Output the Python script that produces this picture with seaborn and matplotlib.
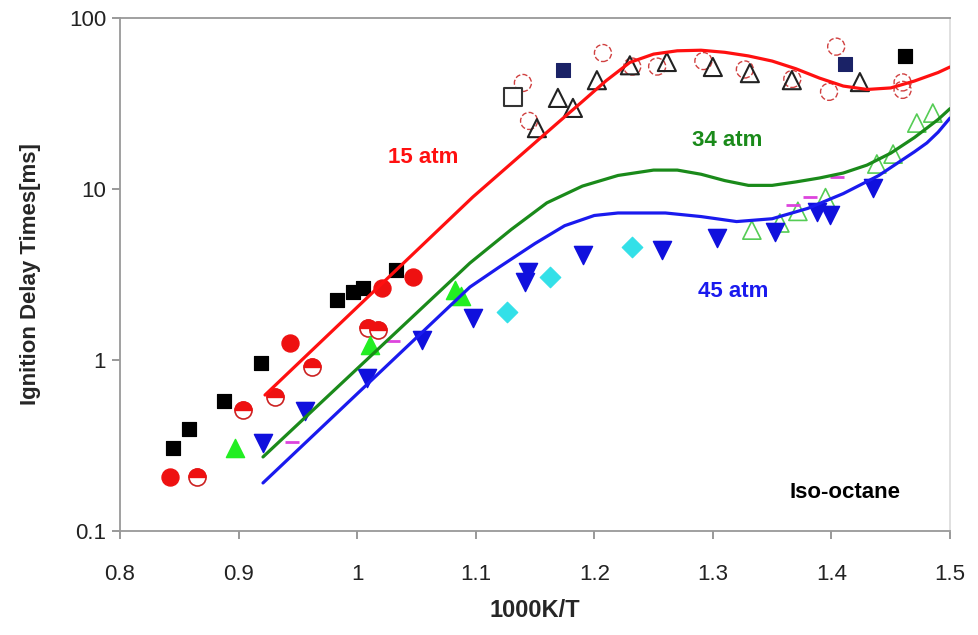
import matplotlib
matplotlib.use("Agg")
import matplotlib.pyplot as plt
from matplotlib.markers import MarkerStyle
import seaborn as sns

sns.set_theme(style="white")
plt.rcParams['font.family'] = ['Liberation Sans', 'DejaVu Sans']

# ---- model curves ----
red_x = [0.9223, 1.0976, 1.171, 1.19, 1.21, 1.23, 1.25, 1.27, 1.29, 1.31, 1.33, 1.35, 1.37, 1.39, 1.41, 1.43, 1.45, 1.47, 1.49, 1.50]
red_y = [0.624, 8.98, 25.0, 32.5, 43.0, 55.0, 61.5, 64.3, 64.8, 63.0, 60.0, 56.0, 50.5, 44.5, 40.0, 38.2, 39.0, 42.8, 48.0, 51.7]
green_x = [0.9206, 1.0951, 1.13, 1.16, 1.19, 1.22, 1.25, 1.27, 1.29, 1.31, 1.33, 1.35, 1.37, 1.39, 1.41, 1.43, 1.45, 1.47, 1.49, 1.50]
green_y = [0.271, 3.69, 5.8, 8.3, 10.4, 12.0, 12.9, 12.9, 12.2, 11.2, 10.5, 10.5, 11.0, 11.6, 12.4, 13.8, 16.2, 20.0, 25.5, 29.5]
blue_x = [0.9206, 1.0951, 1.12, 1.15, 1.175, 1.20, 1.22, 1.26, 1.29, 1.32, 1.35, 1.38, 1.41, 1.44, 1.47, 1.4805, 1.49, 1.50]
blue_y = [0.191, 2.67, 3.5, 4.8, 6.1, 7.0, 7.24, 7.24, 6.9, 6.45, 6.7, 7.7, 9.4, 12.0, 16.5, 18.6, 21.5, 26.0]

# ---- experimental points ----
sq_x = [0.8447, 0.8582, 0.8877, 0.9189, 0.983, 0.9965, 1.0049, 1.0327, 1.4619]
sq_y = [0.306, 0.395, 0.576, 0.96, 2.24, 2.50, 2.64, 3.36, 60.0]
rc_x = [0.842, 0.9433, 1.0209, 1.047]
rc_y = [0.207, 1.26, 2.64, 3.06]
rh_x = [0.865, 0.9037, 0.9307, 0.9619, 1.0091, 1.0175]
rh_y = [0.207, 0.51, 0.607, 0.91, 1.54, 1.50]
gt_x = [0.897, 1.0108, 1.0825, 1.088]
gt_y = [0.306, 1.22, 2.56, 2.37]
bv_x = [0.9206, 0.956, 1.0083, 1.0546, 1.0976, 1.1415, 1.144, 1.1904, 1.257, 1.3034, 1.3523, 1.3877, 1.3987, 1.4349]
bv_y = [0.327, 0.50, 0.785, 1.31, 1.76, 2.86, 3.27, 4.11, 4.4, 5.17, 5.6, 7.36, 7.05, 10.1]
cd_x = [1.1263, 1.1626, 1.2317]
cd_y = [1.91, 3.06, 4.58]
go_x = [1.3329, 1.3565, 1.3717, 1.395, 1.4383, 1.452, 1.472, 1.4855]
go_y = [5.75, 6.33, 7.4, 8.9, 14.0, 16.0, 24.3, 27.8]
mg_x = [1.3675, 1.382, 1.4046, 0.945, 1.03]
mg_y = [8.1, 9.0, 11.75, 0.33, 1.3]
bt_x = [1.1516, 1.1693, 1.182, 1.2022, 1.23, 1.2612, 1.30, 1.3312, 1.3666, 1.424]
bt_y = [22.7, 34.1, 29.8, 43.3, 52.9, 55.3, 51.7, 47.6, 43.3, 42.2]
ro_x = [1.1398, 1.145, 1.2073, 1.232, 1.253, 1.292, 1.327, 1.367, 1.398, 1.404, 1.46, 1.46]
ro_y = [41.7, 25.0, 62.4, 52.0, 52.0, 56.0, 50.0, 44.0, 37.0, 68.0, 42.0, 38.0]
gs_x = [1.1314]
gs_y = [34.5]
nv_x = [1.1735, 1.4114]
nv_y = [49.6, 54.0]

fig = plt.figure(figsize=(9.79, 6.35), dpi=100)
ax = fig.add_axes([120/979, 1 - 531/635, 830/979, 513/635])

def sc(x, y, **kw):
    sns.scatterplot(x=x, y=y, ax=ax, legend=False, zorder=3, **kw)

sc(ro_x, ro_y, marker='o', s=150, facecolor='none', edgecolor='#d04040', linewidth=1.0, linestyle='--')
sc(bt_x, bt_y, marker='^', s=170, facecolor='none', edgecolor='#222222', linewidth=1.5)
sc(gs_x, gs_y, marker='s', s=150, facecolor='white', edgecolor='#333333', linewidth=1.5)
sc(nv_x, nv_y, marker='s', s=90, color='#1a2266', edgecolor='#1a2266')
sc(go_x, go_y, marker='^', s=170, facecolor='none', edgecolor='#55cc55', linewidth=1.2)
sc(mg_x, mg_y, marker='_', s=90, color='#dd44dd', linewidth=2)
sc(sq_x, sq_y, marker='s', s=110, color='black', edgecolor='black')
sc(rc_x, rc_y, marker='o', s=150, color='#ee1111', edgecolor='#ee1111')
sc(rh_x, rh_y, marker='o', s=150, facecolor='white', edgecolor='#cc2222', linewidth=1.2)
sc(rh_x, rh_y, marker=MarkerStyle('o', fillstyle='top'), s=150, color='#ee1111', edgecolor='#ee1111')
sc(gt_x, gt_y, marker='^', s=170, color='#22ee22', edgecolor='#22ee22')
sc(cd_x, cd_y, marker='D', s=110, color='#33e0e8', edgecolor='#33e0e8')
sc(bv_x, bv_y, marker='v', s=170, color='#1010dd', edgecolor='#1010dd')

sns.lineplot(x=red_x, y=red_y, ax=ax, color='#ff1010', linewidth=2.3, sort=False, zorder=4)
sns.lineplot(x=green_x, y=green_y, ax=ax, color='#1a8a1a', linewidth=2.3, sort=False, zorder=4)
sns.lineplot(x=blue_x, y=blue_y, ax=ax, color='#1a1aee', linewidth=2.3, sort=False, zorder=4)

ax.set_yscale('log')
ax.set_xlim(0.8, 1.5)
ax.set_ylim(0.1, 100)
ax.set_xticks([0.8, 0.9, 1.0, 1.1, 1.2, 1.3, 1.4, 1.5])
ax.set_xticklabels(['0.8', '0.9', '1', '1.1', '1.2', '1.3', '1.4', '1.5'])
ax.set_yticks([0.1, 1, 10, 100])
ax.set_yticklabels(['0.1', '1', '10', '100'])
ax.minorticks_off()
ax.tick_params(axis='both', which='major', labelsize=16, colors='#222222', length=6, width=1.2,
               direction='out', bottom=True, left=True)
ax.tick_params(axis='x', color='#888888', pad=18)
ax.tick_params(axis='y', color='#888888', pad=4)
for side in ['left', 'bottom', 'top']:
    ax.spines[side].set_color('#999999')
    ax.spines[side].set_linewidth(1.3)
ax.spines['right'].set_color('#dddddd')
ax.spines['right'].set_linewidth(1.3)

ax.set_xlabel('1000K/T', fontsize=17, fontweight='bold', labelpad=10)
ax.set_ylabel('Ignition Delay Times[ms]', fontsize=16, fontweight='bold', labelpad=20)

ax.text(1.0555, 15.2, '15 atm', color='#ff1010', fontsize=16, fontweight='bold', ha='center', va='center')
ax.text(1.3118, 19.3, '34 atm', color='#1a8a1a', fontsize=16, fontweight='bold', ha='center', va='center')
ax.text(1.3169, 2.5, '45 atm', color='#1a1aee', fontsize=16, fontweight='bold', ha='center', va='center')
ax.text(1.4113, 0.169, 'Iso-octane', color='black', fontsize=16, fontweight='bold', ha='center', va='center')

fig.savefig('out.png', dpi=100)
